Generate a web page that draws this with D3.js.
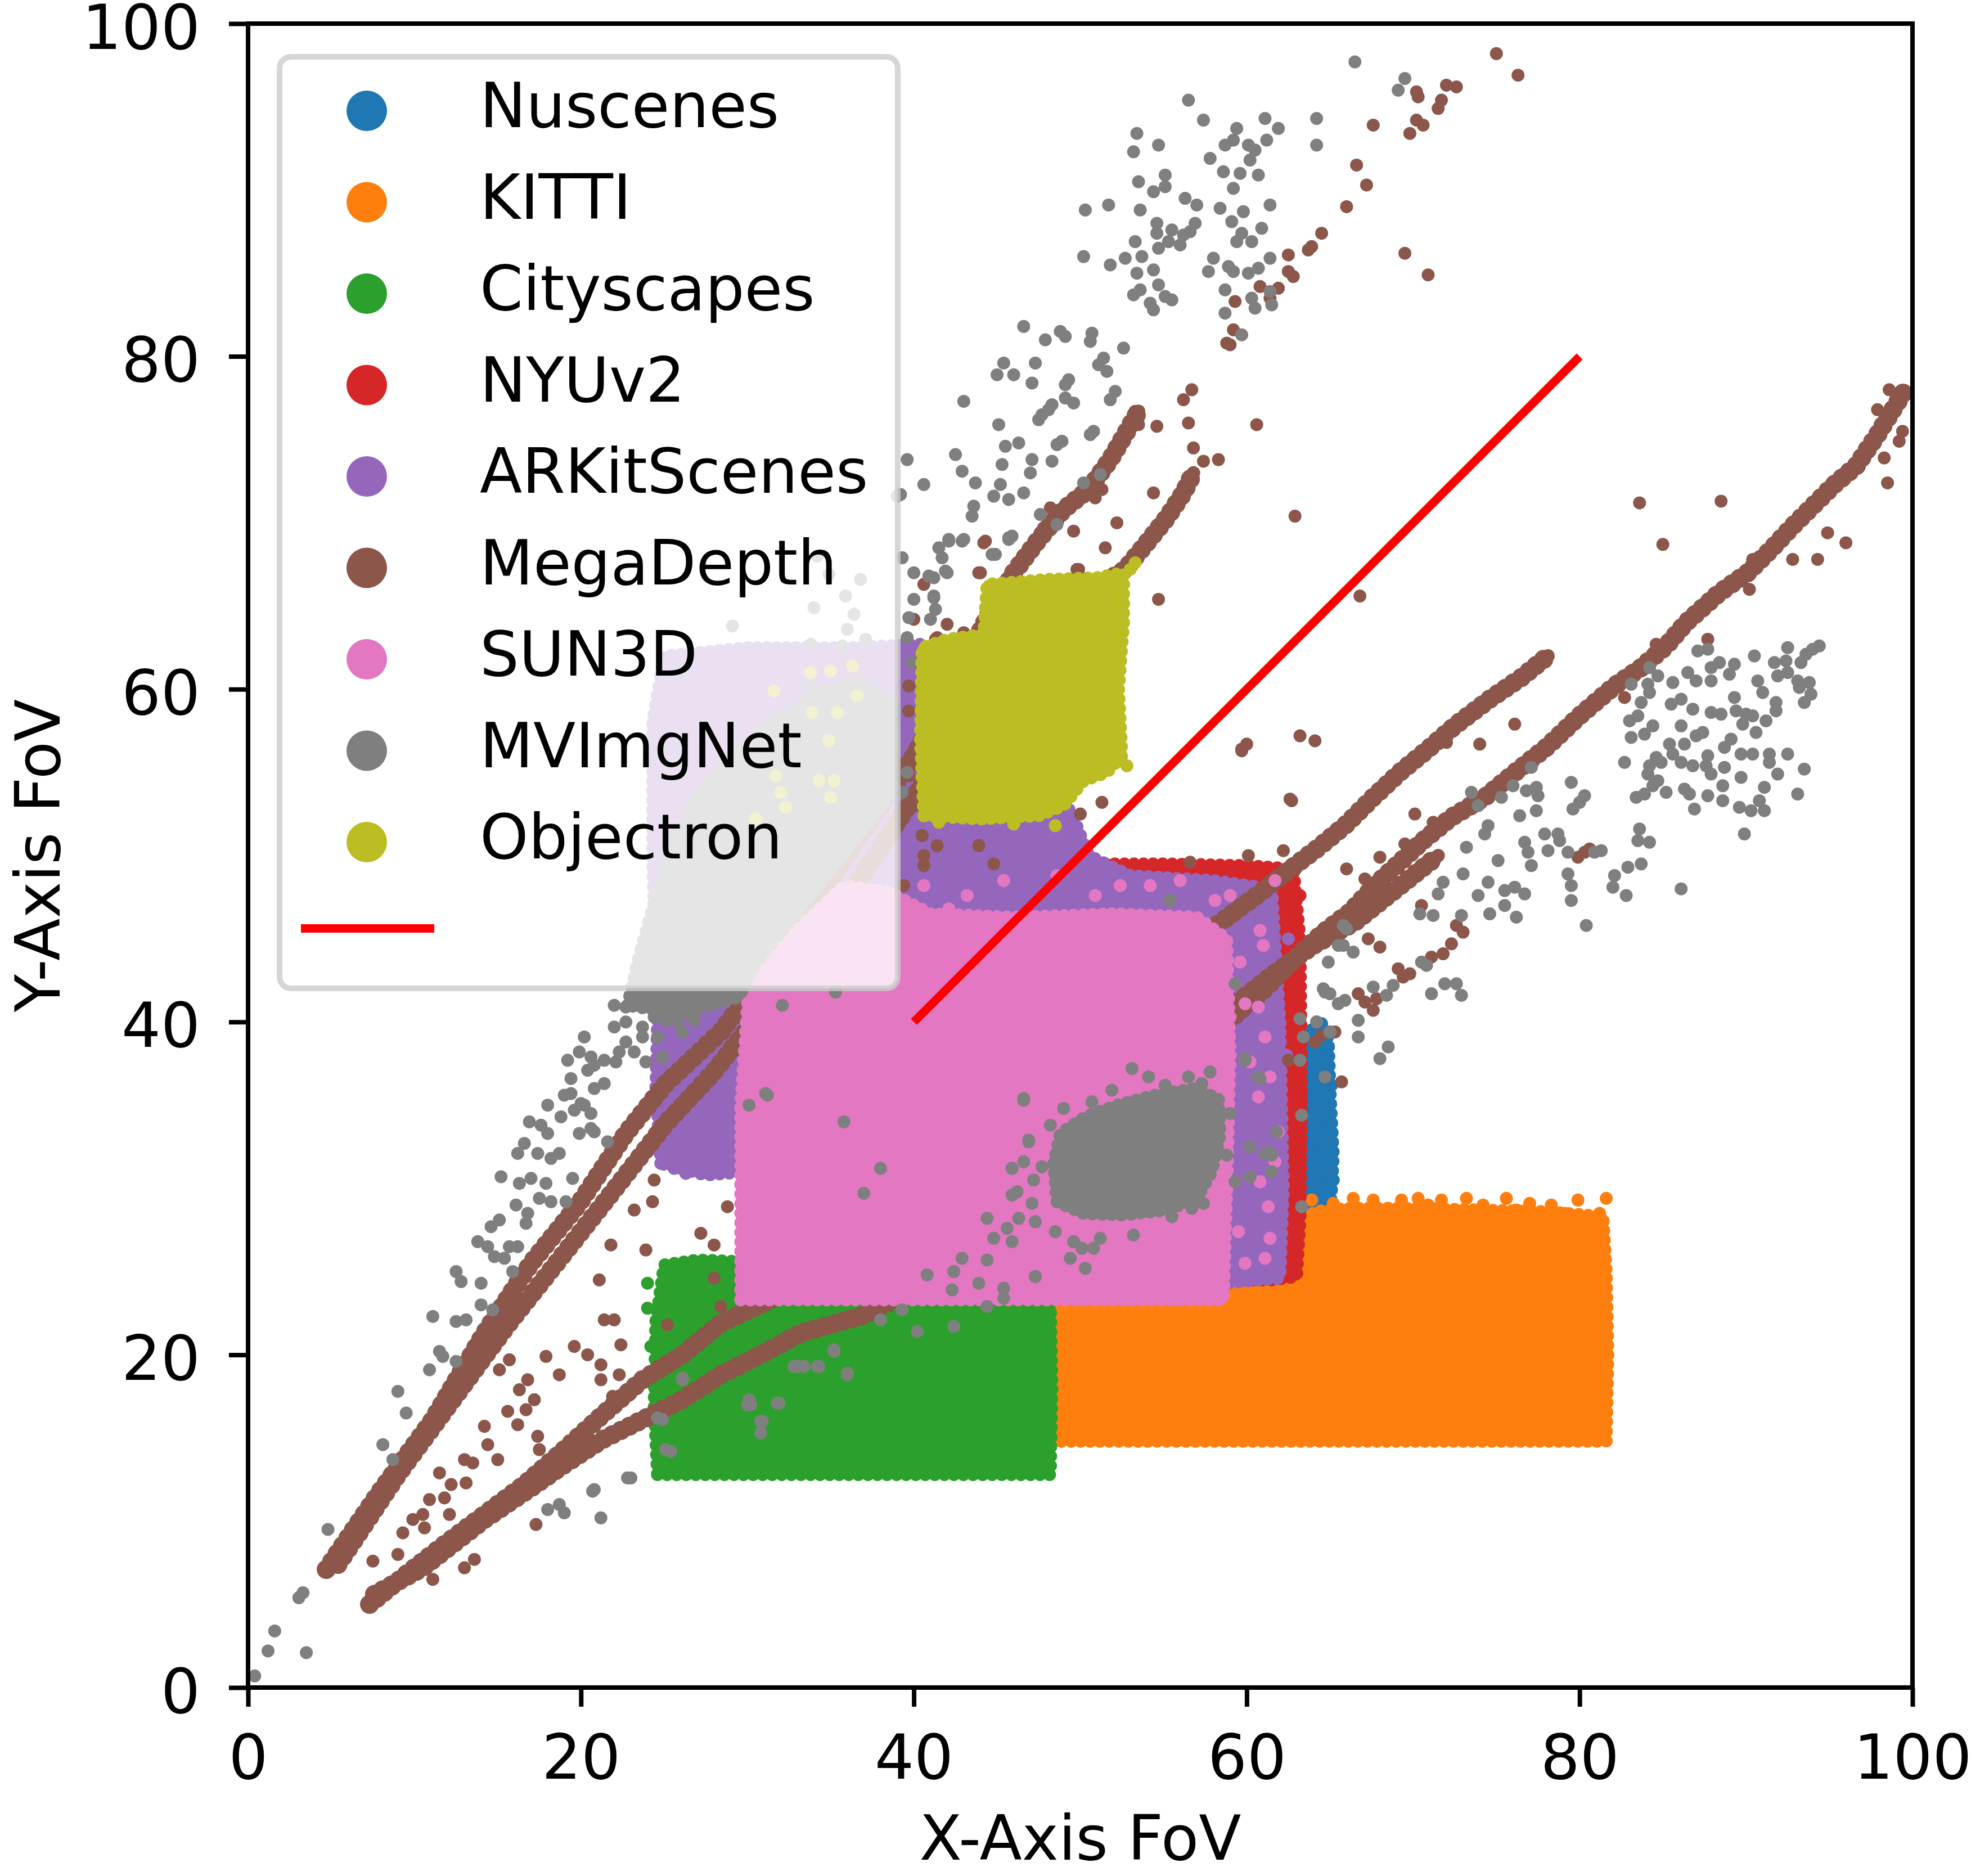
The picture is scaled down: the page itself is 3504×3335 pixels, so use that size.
<!DOCTYPE html>
<html>
<head>
<meta charset="utf-8">
<script src="https://cdn.jsdelivr.net/npm/d3@7"></script>
<style>
  body { margin: 0; background: #fff; }
  text { font-family: "DejaVu Sans", sans-serif; }
</style>
</head>
<body>
<script>
const width = 3504;
const height = 3335;

const datasets = ["Nuscenes", "KITTI", "Cityscapes", "NYUv2", "ARKitScenes", "MegaDepth", "SUN3D", "MVImgNet", "Objectron"];
const xTicks = [0, 20, 40, 60, 80, 100];
const yTicks = [0, 20, 40, 60, 80, 100];
const fovLine = [[40, 40], [80, 80]];

// dense parts of each dataset (x FoV, y FoV)
const nuscenesArea = [[62.4,24.8],[62.3,30],[62.5,34],[63,37],[63.6,39.2],[64.3,40],[64.9,39],[65,36],[65.2,32],[65,28],[64.6,24.8]];
const nuscenesPoints = [[64.5,39.9],[65.1,36.2],[65.0,33.5],[64.3,32.2],[65.2,30.5],[64.8,38.3],[65.0,39.4],[64.2,40.0]];

const kittiArea = [[48.3,14.8],[81.6,14.8],[81.7,20],[81.6,25],[81.4,28.3],[78,28.6],[74,28.7],[70,28.8],[66,28.8],[64,28.6],[63.3,27],[62.5,24.5],[59,23.8],[48.3,23.6]];
const kittiPoints = [[63.9,29.3],[65.2,29.1],[66.4,29.4],[67.6,29.3],[68.5,28.8],[69.3,29.3],[70.3,29.4],[70.9,29.0],[71.7,29.3],[73.2,29.4],[74.2,29.0],[75.6,29.4],[76.2,28.7],[77.0,29.1],[78.3,29.0],[79.1,28.5],[79.9,29.3],[81.2,28.5],[81.6,29.4]];

const cityscapesArea = [[24.6,12.8],[48.2,12.8],[48.3,18],[48.2,23.5],[45,24],[40,24],[35,24],[30.5,24.5],[29.5,25.6],[27,25.7],[25,25.4],[24.5,22],[24.4,17]];
const cityscapesPoints = [[24.0,24.3],[24.2,20.5],[24.0,22.8]];

const nyuArea = [[42,46.5],[43,48.6],[46,49.3],[50,49.5],[55,49.5],[60,49.4],[62.8,49.2],[63.2,45],[63.3,35],[63.2,28],[63,24.7],[61.5,24.5],[42,24.5]];
const nyuPoints = [[50.3,49.4],[51.8,49.4],[54.0,49.2],[55.6,49.4],[58.1,49.1],[59.9,48.5],[63.2,47.6],[62.9,46.4],[47.9,49.4],[44.8,49.4]];

const arkitArea = [[24.8,31.5],[24.5,36],[24.6,40],[24.3,50],[24.3,58],[25,62],[30,62.5],[36,62.5],[40.5,62.7],[41,56],[45,55],[48.5,54],[49.5,52.5],[50.5,50],[53,48.8],[58,48.5],[61.5,48],[62,40],[62.2,30],[62,24.6],[58.5,24.3],[29.8,24.3],[29.8,31],[27.5,30.8]];
const arkitPoints = [[25.6,31.2],[26.3,30.9],[28.0,31.4],[62.5,45],[62.4,38],[48.6,51.8],[47.3,51.5],[48.3,50.9]];

const megadepthStreaks = [
  [[4.7,7.1],[7.8,11.6],[11.1,16.1],[14.2,21.3],[17,25.5],[19.9,29.1],[22.7,33.3],[25.1,36.3],[28.4,39.4],[31,42.8],[34,47],[37,51.5],[40,56],[42.5,60.5],[44.5,64.5],[46,67],[47.5,69],[49,70.8],[50.5,72],[51.8,73.8],[52.8,75.5],[53.5,76.7]],
  [[5.4,7.4],[9,12.8],[12.3,17.3],[15.6,21.8],[19,26.1],[22.3,30.3],[25.1,33.9],[27.9,36.9],[29.4,38.8],[32,42],[35,46],[38,50.5],[41,55],[44,59.5],[47,63],[50,65.5],[52.7,67.2],[54,68.8],[55.2,70.3],[56.2,71.8],[56.8,73]],
  [[7.3,5],[9.5,6.8],[11.8,8.6],[14.2,10.4],[16.6,12.2],[19,14.3],[21.3,16.4],[23.7,18.5],[26.1,20],[28.4,21.9],[31.2,23.2],[34,25]],
  [[7.6,5.6],[10.5,7.2],[14.2,10.1],[17,12],[19,13.4],[21.3,14.9],[23.7,16.1],[26.1,17.3],[28.4,18.8],[30.8,20],[33.2,21.3],[37.1,22.4],[40,24]],
  [[54,36],[56,37.5],[57.7,39],[59.4,40.5],[61.1,42],[62.8,43.7],[64.5,45.3],[66.2,46.6],[67.8,48.3],[69.2,49.6],[70.6,50.9],[72.3,52.3],[74.3,53.5],[76,54.9],[78,56.5],[80,58.4],[82.1,60.2],[83.7,61.3],[85.2,62.6],[86.4,64],[88.4,65.8],[90.1,67],[91.5,68.4],[92.8,69.8],[94,71],[95.3,72.3],[96.6,73.4],[97.9,75.3],[99.5,77.9]],
  [[56.5,38.5],[59,40.8],[61.5,42.8],[64,44.6],[66.5,46],[69,48],[71.5,50]],
  [[52,40],[54,42.5],[56.1,44.2],[58.3,45.9],[60.6,47.6],[62.5,49.1],[64.2,50.4],[65.9,51.8],[67.6,53.5],[69.2,55],[70.9,56.4],[72.5,57.8],[74.6,59.4],[76.5,60.7],[78.1,62]]
];
const megadepthPoints = [
  [75.0,98.2],[76.3,96.9],[72.0,96.3],[72.6,96.2],[70.2,95.9],[70.3,95.6],[71.7,95.4],[71.5,94.9],[70.2,94.2],[70.6,93.9],[69.8,93.4],[67.6,93.9],[66.6,91.5],[67.2,90.3],[66.0,89.0],[64.5,87.4],[63.7,86.4],[63.9,86.6],[62.5,86.1],[62.5,85.1],[62.8,84.8],[60.8,84.2],[61.9,84.1],[61.4,83.5],[59.3,83.3],[59.2,81.6],[58.8,80.8],[59.0,80.7],[69.5,86.2],[70.9,84.9],
  [57.4,73.7],[58.3,73.8],[54.6,75.8],[60.6,75.9],[62.9,70.4],[54.4,71.8],[50.0,71.6],[49.6,69.5],[44.3,68.9],[44.0,67.0],[49.9,67.2],[54.7,65.4],[66.8,65.6],[42.0,63.9],[40.0,64.2],[41.3,63.0],[52.2,70.0],[51.5,68.5],[56.7,78.0],[56.2,77.4],[56.5,76.0],[56.8,74.5],[53.3,76.7],[53.5,75.9],[52.7,75.2],[52.3,74.6],[51.3,72.0],[50.9,71.5],[48.2,70.9],[47.8,69.7],[47.0,68.5],[46.1,67.3],
  [44.2,68.8],[43.9,67.0],[41.4,63.1],[43.0,63.4],[40.6,66.3],[49.8,67.2],[51.3,53.2],[50.0,52.5],[62.6,53.4],[59.7,56.3],[63.2,57.2],[64.1,56.9],[60.1,50.0],[62.2,50.3],[65.7,36.4],[39.7,60.2],[39.7,58.7],[40.2,56.6],[39.7,54.8],[40.0,53.0],[40.5,51.2],[41.4,50.6],[40.6,50.0],[43.9,50.6],[44.8,49.5],[40.6,49.4],[39.4,48.2],
  [83.6,71.2],[88.5,71.3],[85.0,68.7],[94.9,69.4],[96.0,68.8],[94.3,67.8],[92.8,67.8],[90.4,67.8],[98.5,72.4],[90.2,66.0],[87.7,63.0],[84.6,62.7],[82.7,59.5],[98.6,78.0],[97.9,76.8],[99.4,75.5],[99.2,74.9],[98.3,73.9],[97.2,74.1],
  [81.0,59.3],[79.8,58.1],[78.8,57.3],[76.1,57.9],[74.0,56.7],[72.4,57.8],[72.0,56.8],[59.7,56.4],[60.0,56.7],
  [62.7,53.3],[56.6,49.6],[74.6,59.5],[77.6,61.6],[70.1,52.5],[71.2,52.0],[69.5,50.7],[68.0,49.9],[66.0,49.2],[67.1,48.6],[70.5,47.0],[72.6,45.8],[73.0,45.4],[72.3,44.7],[71.8,44.1],[71.1,43.9],[69.1,43.2],[69.8,42.9],[69.4,42.7],[68.0,44.5],[67.3,45.0],[80.3,50.2],[79.9,49.9],[80.6,50.4],[67.8,41.4],[67.1,41.2],[66.7,41.7],[67.6,40.7],[65.3,39.4],[64.5,39.2],[64.1,38.8],[62.5,37.7],
  [21.4,22.1],[22.0,22.1],[22.4,20.6],[19.6,20.5],[20.4,20.0],[17.9,19.9],[15.7,19.7],[21.2,19.4],[22.3,18.8],[18.7,18.8],[21.2,18.5],[16.8,18.5],[17.2,17.3],[16.3,17.9],[15.6,16.6],[16.7,16.7],[16.2,15.8],[21.9,17.5],[17.4,15.1],[17.5,14.3],[14.4,14.6],[15.0,13.7],[13.0,13.7],[13.5,13.5],[11.5,12.9],[12.2,12.2],[13.1,12.3],[10.9,11.3],[11.8,11.4],[10.5,10.4],[12.1,10.4],[9.9,10.1],[10.6,9.6],[9.3,9.3],[9.0,8.0],[7.5,7.6],[21.1,24.5],[21.8,26.6],[23.9,26.3],[24.4,30.5],[24.3,29.2],[23.2,28.7],[27.2,27.3],[28.0,26.6],[28.8,28.9],[28.0,24.6],[28.4,22.9],[25.2,21.8],[15.1,19.1],[14.2,15.7],[16.1,11.6],[17.3,9.8],[13.6,7.7],[13.0,7.2],[11.1,6.5]
];

const sun3dArea = [[29.6,23.3],[58.6,23.3],[58.8,30],[59,38],[58.8,45],[57,46.3],[52,46.5],[46,46.3],[41,46.5],[38.5,47.8],[35.8,48.2],[33,45.5],[30.1,42.4],[29.6,35]];
const sun3dPoints = [[59.0,40.3],[59.9,41.1],[60.7,40.9],[61.1,39.1],[60.2,37.6],[61.4,36.7],[61.9,33.4],[61.7,31.6],[60.8,30.4],[61.1,25.8],[59.9,25.5],[61.0,44.6],[60.8,45.5],[59.0,47.6],[56.0,48.5],[54.2,48.2],[52.4,48.2],[50.9,47.6],[48.6,48.8],[45.4,48.5],[43.2,47.6],[42.1,46.8],[40.6,48.2],[61.7,48.5],[58.1,47.3],[56.3,46.1],[59.6,43.6],[57.8,43.0],[60.7,35.5],[61.3,28.9],[61.4,27.0],[59.5,27.4]];

const mvimgnetAreas = [
  [[22.8,41],[23.5,44],[24.5,47.5],[25.5,50.5],[27,53.5],[29,56],[31.5,58],[34,59.5],[36.5,60.5],[38.8,59],[38.8,54],[36.5,51],[34.5,48.5],[32.5,46],[30.5,43.5],[29.5,41.5],[26,40.5]],
  [[48.6,29.2],[48.4,31.5],[48.8,33.3],[50.3,34.3],[52.2,35],[54.5,35.6],[56.8,36],[58.3,35.4],[58.4,33.2],[57.9,31],[57,29.4],[55.2,28.7],[52.6,28.4],[50.2,28.5]]
];
const mvimgnetPoints = [
  // upper cluster
  [66.5,97.7],[69.5,96.7],[69.1,96.0],[56.5,95.4],[57.4,94.2],[59.4,93.7],[61.1,94.3],[61.9,93.7],[64.2,94.3],[53.4,93.4],[53.2,92.3],[54.7,92.7],[58.7,92.7],[59.2,93.0],[60.1,92.7],[60.5,92.4],[61.2,93.0],[64.2,92.7],[57.8,91.9],[60.2,91.8],[53.5,90.5],[55.1,90.9],[55.1,90.2],[54.4,89.9],[58.6,91.1],[59.6,91.0],[60.7,90.9],[59.2,90.1],[56.3,89.5],[57.0,89.1],[50.3,88.8],[51.7,89.1],[53.6,88.8],[58.4,88.9],[59.8,88.7],[61.4,89.1],[54.6,88.0],[56.9,88.0],[59.1,88.1],[55.5,87.6],[54.6,87.4],[56.2,87.3],[56.6,87.5],[59.7,87.4],[60.9,87.7],[53.3,86.9],[54.7,86.5],[55.3,86.9],[56.0,86.7],[59.4,86.9],[60.3,86.9],[50.2,86.0],[51.8,85.5],[52.7,85.9],[53.7,86.0],[58.0,85.9],[61.4,85.9],[53.4,85.0],[54.4,85.2],[57.7,85.1],[58.9,85.4],[59.2,85.1],[60.1,85.0],[60.7,85.3],[54.7,84.3],[53.2,83.7],[53.6,84.0],[54.2,83.2],[54.4,82.8],[55.1,83.6],[55.5,83.4],[58.7,84.0],[58.7,82.6],[59.7,81.3],[60.3,83.5],[60.5,82.9],[61.4,83.9],[61.5,83.1],
  // band left of the upper cluster
  [46.6,81.8],[47.9,81.0],[48.8,81.5],[49.1,81.2],[50.7,81.4],[50.6,80.9],[52.6,80.5],[45.4,79.6],[47.3,79.6],[45.0,78.9],[46.0,78.9],[47.1,78.4],[51.4,79.9],[51.1,79.5],[51.6,79.1],[49.3,78.6],[49.1,78.3],[52.1,77.9],[43.0,77.3],[49.1,77.5],[49.6,77.2],[48.3,77.1],[48.1,76.8],[51.8,77.4],[45.1,75.9],[47.7,76.5],[47.5,76.2],[50.8,75.5],[50.6,75.3],[45.5,74.6],[46.3,74.8],[48.9,74.9],[48.6,74.7],[39.6,73.8],[42.5,74.1],[42.9,73.1],[45.3,73.5],[47.1,73.8],[48.3,73.7],[47.0,73.0],[40.6,72.3],[43.7,72.4],[45.2,72.3],[45.7,71.4],[44.8,71.6],[46.6,71.8],[50.2,72.4],[51.2,72.9],[43.5,70.4],[43.6,71.0],[44.9,68.1],[45.7,69.1],[45.9,69.2],[39.2,71.7],[41.7,67.9],[42.1,68.9],[42.9,68.9],[41.5,68.5],[40.0,67.0],[41.9,67.1],[40.9,66.8],[47.6,70.5],[48.6,69.9],[41.2,65.6],[41.3,64.8],[41.0,64.2],
  [39.3,67.9],[41.2,66.7],[42.0,67.0],[41.2,65.5],[40.0,65.4],[39.7,64.3],[39.6,63.1],[39.9,61.6],[39.6,55.0],[39.3,53.8],[42.1,69.0],[43.0,69.0],[44.7,68.1],[45.7,69.0],
  [39.0,71.6],[34.2,68.0],[34.9,66.9],[36.8,66.6],[35.9,65.6],[34.0,64.9],[29.1,63.8],[36.4,64.5],[36.0,63.6],[37.1,63.0],[33.8,62.7],[35.7,62.6],[33.8,60.1],[32.4,58.5],[33.5,56.8],
  // right cluster
  [94.4,62.6],[94.0,62.4],[93.6,62.1],[93.3,61.6],[92.5,62.5],[92.4,61.7],[91.7,61.6],[90.5,62.0],[89.3,61.5],[89.0,60.9],[87.9,60.5],[87.1,62.3],[87.7,62.4],[88.4,61.6],[87.9,61.3],[87.0,60.5],[86.5,61.0],[85.6,60.4],[84.2,61.3],[84.7,60.8],[84.1,60.3],[83.1,60.3],[84.2,59.8],[83.7,59.2],[85.5,59.1],[86.1,59.4],[86.8,58.8],[87.9,58.6],[88.5,58.5],[89.3,59.5],[89.4,58.7],[90.0,58.5],[90.4,58.4],[89.8,57.9],[90.6,57.4],[91.2,58.1],[91.8,58.7],[91.8,59.2],[91.0,59.8],[90.7,60.5],[91.9,60.8],[92.5,61.0],[93.1,60.5],[93.8,60.4],[93.2,60.1],[93.9,59.7],[93.5,59.2],[83.0,58.1],[83.5,58.4],[84.4,57.8],[83.1,57.1],[83.9,57.3],[86.1,57.8],[87.0,57.2],[87.4,57.4],[86.3,56.7],[85.4,56.7],[88.7,56.5],[89.1,57.0],[89.7,56.1],[90.4,56.1],[91.4,56.1],[92.5,56.1],[91.9,54.9],[93.5,55.2],[91.4,55.6],[89.7,54.7],[88.7,55.3],[87.7,56.0],[87.9,54.9],[87.6,55.4],[86.8,55.4],[85.6,56.1],[86.1,55.6],[84.6,55.9],[84.9,55.6],[84.2,55.4],[84.1,54.9],[84.7,54.5],[84.4,54.2],[82.7,55.6],[85.2,53.8],[86.3,54.0],[86.6,53.7],[87.7,53.6],[88.6,54.2],[88.6,53.3],[89.6,52.9],[90.3,52.7],[91.1,52.7],[90.8,53.3],[91.1,54.1],[93.1,53.7],[86.9,52.8],[83.4,53.5],[83.9,53.7],[89.9,51.3],[83.6,51.6],[83.5,50.9],[84.2,50.8],[82.9,49.3],[83.7,49.5],[82.1,48.8],[82.0,48.1],[82.8,47.6],[86.1,48.0],[80.4,45.8],
  [79.5,54.4],[80.3,53.6],[80.0,53.2],[79.6,52.8],[77.9,51.3],[78.7,51.3],[78.8,50.9],[79.3,50.2],[78.1,50.3],[76.7,50.8],[76.9,50.2],[77.1,49.4],[75.1,49.7],[73.0,48.9],[74.5,48.4],[75.5,47.9],[76.1,48.1],[76.7,47.7],[75.5,47.0],[76.2,46.3],[74.6,46.5],[73.9,47.6],[71.8,48.4],[71.5,47.7],[70.4,46.5],[71.2,46.4],[72.9,46.4],[79.3,48.9],[79.5,48.2],[79.5,47.3],[81.3,50.3],[80.9,50.2],[77.5,53.6],[77.4,54.1],[76.8,53.9],[76.0,54.2],[75.3,53.5],[73.9,53.0],[73.5,53.8],[74.5,51.8],[74.3,51.3],[76.4,52.4],[77.4,52.7],[77.1,55.3],[73.2,50.5],
  [70.5,43.6],[70.8,43.4],[71.9,42.3],[72.6,42.3],[71.1,41.7],[72.9,41.6],[68.8,42.2],[67.6,42.1],[68.4,41.6],[66.7,40.1],[66.7,39.1],[68.5,38.5],[68.0,37.8],[65.9,41.3],[65.5,44.6],[66.4,44.2],[64.9,43.6],[64.6,42.0],[65.0,41.7],[65.0,39.4],[66.0,45.6],
  // left diagonal scatter
  [3.05,5.4],[3.3,5.7],[1.6,3.4],[1.2,2.2],[3.5,2.1],[0.4,0.7],[4.8,9.5],[8.1,14.6],[8.7,13.7],[9.0,17.8],[9.5,16.5],[10.9,19.1],[11.5,20.2],[11.7,19.9],[11.1,22.3],[12.5,19.6],[12.5,22.0],[13.1,22.1],[12.5,25.0],[12.8,24.4],[14.0,24.3],[14.0,23.0],[14.7,22.7],[13.8,26.8],[14.4,26.5],[14.8,25.9],[15.4,25.8],[15.7,26.5],[16.2,26.5],[15.9,25.0],[14.6,27.7],[15.1,28.1],[16.1,29.0],[16.8,28.5],[16.7,27.9],[16.3,30.3],[17.0,30.6],[17.9,30.3],[17.5,29.4],[18.2,29.2],[19.1,29.2],[15.2,30.7],[16.2,32.1],[16.6,32.7],[17.4,32.1],[18.2,31.8],[18.7,32.1],[16.9,34.0],[17.6,33.8],[18.0,33.3],[18.8,34.3],[19.6,34.7],[20.2,35.0],[20.6,34.5],[18.0,35.0],[19.0,35.6],[19.4,35.7],[20.0,35.1],[20.8,36.0],[21.4,36.3],[19.4,36.6],[20.4,37.1],[20.8,37.4],[19.2,37.7],[19.9,38.2],[20.6,37.9],[21.4,37.7],[22.1,37.6],[22.3,38.2],[22.7,38.8],[23.2,38.2],[23.9,37.6],[24.9,37.9],[20.2,39.1],[22.0,39.7],[22.7,40.0],[23.7,39.7],[24.4,40.3],[22.0,41.0],[22.7,40.9],[23.7,40.9],[24.9,41.2],[25.8,40.0],[26.3,40.6],[27.2,41.1],[26.8,40.1],[26.1,39.4],[25.1,40.1],[24.6,39.1],[23.7,39.1],[19.9,33.3],[20.6,33.6],
  [24.9,16.1],[25.1,14.3],[26.1,18.5],[30.1,17.3],[30.8,16.0],[31.9,17.1],[32.8,19.3],[33.4,19.3],[34.2,19.3],[35.2,20.2],[36.0,18.8],[30.0,17.0],[23.0,12.6],[20.8,11.9],[21.2,10.2],[18.7,11.0],[19.0,10.5],[18.0,10.7],[31.2,35.6],[35.8,34.0],[37.0,29.7],[32.1,41.0],[30.1,35.0],[35.3,41.8],
  // around the centre cluster
  [38.0,31.2],[45.9,31.2],[44.4,28.2],[44.8,27.0],[45.6,27.6],[42.9,25.8],[44.4,25.7],[42.4,25.0],[40.8,24.8],[43.9,24.3],[45.4,24.0],[42.3,23.9],[47.3,24.7],[44.4,22.9],[39.3,22.7],[38.0,22.1],[42.4,21.7],[40.2,21.4],[35.2,20.3],[33.0,19.3],[34.3,19.3],[36.0,18.9],[31.8,17.1],[30.2,17.0],[30.9,16.0],[26.1,18.6],[24.6,16.2],[25.4,14.2],[30.8,15.3],[22.8,12.6],[20.7,11.8],[19.5,30.6],[21.6,32.8],[20.8,33.4],[63.3,28.9],[61.3,32.2],[61.5,31.0],
  [31.1,35.7],[46.6,35.4],[46.2,29.8],[46.9,32.8],[63.4,39.1],[63.2,40.2],[64.7,41.8],[65.5,41.1],[65.8,44.6],[65.8,45.8],[59.3,42.3],[64.7,36.7],[55.4,47.3],[45.4,23.4],[50.3,25.2],[49.4,25.8],
  [46.6,35.3],[46.9,32.9],[46.6,31.6],[45.9,31.2],[47.7,31.3],[47.2,30.5],[45.9,29.6],[47.1,29.1],[46.3,28.2],[47.3,28.0],[45.9,26.8],[48.5,27.4],[49.6,26.8],[50.1,26.4],[50.8,26.4],[51.2,27.0],[53.2,27.2],[55.5,28.3],[56.7,28.8],[57.4,29.1],[47.3,24.7],[51.9,35.9],[53.1,37.2],[54.1,36.7],[50.7,35.2],[55.1,36.2],[56.5,36.7],[57.8,37.0],[57.3,36.3],[59.9,37.8],[60.7,36.7],[60.2,32.5],[59.3,30.4],[60.2,30.7],[61.8,33.4],[63.3,34.4],[61.1,32.1],[61.5,32.0],[63.2,37.7],[64.2,40.0],[65.0,39.4],[59.9,37.7],[60.8,36.6],[49.0,34.8],[48.2,33.8],[59.0,34.5],[58.8,32.0]
];

const objectronArea = [[40.6,52.4],[40.4,57],[40.5,62.5],[42,63],[44.2,63.3],[44.4,66.3],[48,66.6],[51,66.7],[52.6,67],[52.6,64],[52.3,60],[52.5,56],[51.6,55],[50.2,54.5],[49,53],[47.5,52.4],[44,52.2]];
const objectronPoints = [[53.0,67.2],[53.3,67.6],[52.8,55.4],[48.5,51.8],[46.0,51.9],[41.5,52.0],[33.8,61.0],[35.0,61.1],[36.3,61.4],[31.6,59.9],[33.9,58.6],[35.4,58.6],[31.7,54.8],[32.0,53.8],[34.3,54.5],[35.2,54.5],[35.0,53.5],[32.3,52.9],[30.5,52.2],[34.9,56.9],[36.6,59.6]];

const areas = {
  Nuscenes: [nuscenesArea], KITTI: [kittiArea], Cityscapes: [cityscapesArea], NYUv2: [nyuArea],
  ARKitScenes: [arkitArea], SUN3D: [sun3dArea], MVImgNet: mvimgnetAreas, Objectron: [objectronArea]
};
const points = {
  Nuscenes: nuscenesPoints, KITTI: kittiPoints, Cityscapes: cityscapesPoints, NYUv2: nyuPoints,
  ARKitScenes: arkitPoints, MegaDepth: megadepthPoints, SUN3D: sun3dPoints, MVImgNet: mvimgnetPoints, Objectron: objectronPoints
};
const streaks = { MegaDepth: megadepthStreaks };

const color = d3.scaleOrdinal().domain(datasets).range(d3.schemeCategory10);

const svg = d3.select("body")
    .append("svg")
    .attr("width", width)
    .attr("height", height);

const x = d3.scaleLinear().domain([0, 100]).range([441, 3400]);
const y = d3.scaleLinear().domain([0, 100]).range([3000, 42]);
const line = d3.line().x(d => x(d[0])).y(d => y(d[1]));
const r = 11.5;

svg.append("clipPath").attr("id", "plot")
  .append("rect")
    .attr("x", x(0)).attr("y", y(100))
    .attr("width", x(100) - x(0)).attr("height", y(0) - y(100));

const plot = svg.append("g").attr("clip-path", "url(#plot)");

// draws a path as a row of overlapping dots
function dotted(g, d, c, core, coreWidth, dotWidth) {
  g.append("path")
      .attr("d", d)
      .attr("fill", core ? c : "none")
      .attr("stroke", c)
      .attr("stroke-width", coreWidth)
      .attr("stroke-linejoin", "round")
      .attr("stroke-linecap", "round");
  g.append("path")
      .attr("d", d)
      .attr("fill", "none")
      .attr("stroke", c)
      .attr("stroke-width", dotWidth)
      .attr("stroke-linecap", "round")
      .attr("stroke-dasharray", "0 17");
}

// one layer per dataset, in plotting order
datasets.forEach(name => {
  const c = color(name);
  const g = plot.append("g");
  (areas[name] || []).forEach(a => dotted(g, line(a) + "Z", c, true, 14, 2 * r));
  (streaks[name] || []).forEach(s => dotted(g, line(s), c, false, 24, 34));
  g.selectAll("circle")
    .data(points[name] || [])
    .join("circle")
      .attr("cx", d => x(d[0]))
      .attr("cy", d => y(d[1]))
      .attr("r", r)
      .attr("fill", c);
});

plot.append("path")
    .attr("d", line(fovLine))
    .attr("stroke", "#ff0000")
    .attr("stroke-width", 15)
    .attr("fill", "none");

// axes
const xAxis = svg.append("g")
    .attr("transform", `translate(0,${y(0)})`)
    .call(d3.axisBottom(x).tickValues(xTicks).tickSize(34).tickPadding(50).tickFormat(d3.format("d")));
const yAxis = svg.append("g")
    .attr("transform", `translate(${x(0)},0)`)
    .call(d3.axisLeft(y).tickValues(yTicks).tickSize(34).tickPadding(51).tickFormat(d3.format("d")));

[xAxis, yAxis].forEach(a => {
  a.attr("font-size", 110).attr("font-family", "DejaVu Sans");
  a.select(".domain").remove();
  a.selectAll(".tick line").attr("stroke", "#000").attr("stroke-width", 8);
  a.selectAll(".tick text").attr("fill", "#000");
});
yAxis.selectAll(".tick text").attr("dy", "0.4em");

svg.append("rect")
    .attr("x", x(0)).attr("y", y(100))
    .attr("width", x(100) - x(0)).attr("height", y(0) - y(100))
    .attr("fill", "none")
    .attr("stroke", "#000")
    .attr("stroke-width", 8);

svg.append("text")
    .attr("x", (x(0) + x(100)) / 2)
    .attr("y", 3306)
    .attr("text-anchor", "middle")
    .attr("font-size", 110)
    .text("X-Axis FoV");

svg.append("text")
    .attr("transform", `translate(106,${(y(0) + y(100)) / 2}) rotate(-90)`)
    .attr("text-anchor", "middle")
    .attr("font-size", 110)
    .text("Y-Axis FoV");

// legend
const legend = svg.append("g");
legend.append("rect")
    .attr("x", 497).attr("y", 101)
    .attr("width", 1099).attr("height", 1656)
    .attr("rx", 20)
    .attr("fill", "#fff").attr("fill-opacity", 0.8)
    .attr("stroke", "#ccc").attr("stroke-opacity", 0.8)
    .attr("stroke-width", 10);

const rowY = i => 197 + 162.5 * i;
const rows = legend.selectAll("g.row")
  .data(datasets)
  .join("g")
    .attr("class", "row")
    .attr("transform", (d, i) => `translate(0,${rowY(i)})`);
rows.append("circle")
    .attr("cx", 652)
    .attr("r", 36)
    .attr("fill", d => color(d));
rows.append("text")
    .attr("x", 853)
    .attr("y", 29)
    .attr("font-size", 110)
    .text(d => d);

legend.append("line")
    .attr("x1", 535).attr("x2", 772)
    .attr("y1", rowY(9) - 9).attr("y2", rowY(9) - 9)
    .attr("stroke", "#ff0000")
    .attr("stroke-width", 15);
</script>
</body>
</html>
